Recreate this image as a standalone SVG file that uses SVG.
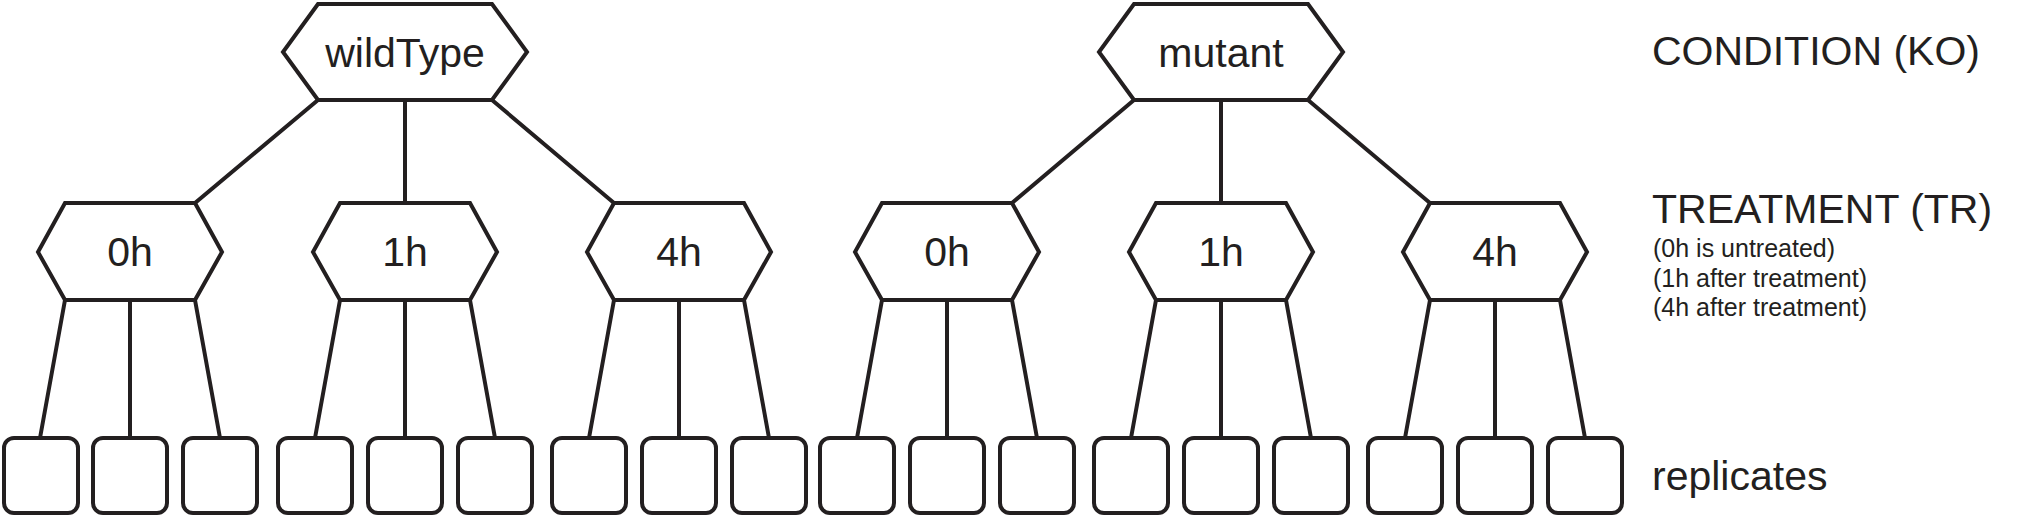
<svg xmlns="http://www.w3.org/2000/svg" width="2022" height="518" viewBox="0 0 2022 518">
<style>
.hex{fill:#fff;stroke:#231f20;stroke-width:4;stroke-linejoin:miter}
.rep{fill:#fff;stroke:#231f20;stroke-width:4}
.edge{stroke:#231f20;stroke-width:4;fill:none}
.lbl{font-family:"Liberation Sans",Arial,sans-serif;font-size:41px;fill:#231f20;text-anchor:middle}
.side{font-family:"Liberation Sans",Arial,sans-serif;font-size:41px;fill:#231f20}
.note{font-family:"Liberation Sans",Arial,sans-serif;font-size:25px;fill:#231f20}
</style>
<rect width="2022" height="518" fill="#fff"/>
<g id="connectors">
<path class="edge" d="M318,100L195,203M405,100V203M492,100L614,203"/>
<path class="edge" d="M1134,100L1012,203M1221,100V203M1308,100L1430,203"/>
<path class="edge" d="M65,300L40,438M130,300V438M195,300L220,438"/>
<path class="edge" d="M340,300L315,438M405,300V438M470,300L495,438"/>
<path class="edge" d="M614,300L589,438M679,300V438M744,300L769,438"/>
<path class="edge" d="M882,300L857,438M947,300V438M1012,300L1037,438"/>
<path class="edge" d="M1156,300L1131,438M1221,300V438M1286,300L1311,438"/>
<path class="edge" d="M1430,300L1405,438M1495,300V438M1560,300L1585,438"/>
</g>
<g id="wildType"><polygon class="hex" points="318,4 492,4 527,52 492,100 318,100 283,52"/><text class="lbl" x="405" y="67">wildType</text></g>
<g id="mutant"><polygon class="hex" points="1134,4 1308,4 1343,52 1308,100 1134,100 1099,52"/><text class="lbl" x="1221" y="67">mutant</text></g>
<g id="wt_0h"><polygon class="hex" points="65,203 195,203 222,252 195,300 65,300 38,252"/><text class="lbl" x="130" y="266">0h</text></g>
<g id="wt_1h"><polygon class="hex" points="340,203 470,203 497,252 470,300 340,300 313,252"/><text class="lbl" x="405" y="266">1h</text></g>
<g id="wt_4h"><polygon class="hex" points="614,203 744,203 771,252 744,300 614,300 587,252"/><text class="lbl" x="679" y="266">4h</text></g>
<g id="mu_0h"><polygon class="hex" points="882,203 1012,203 1039,252 1012,300 882,300 855,252"/><text class="lbl" x="947" y="266">0h</text></g>
<g id="mu_1h"><polygon class="hex" points="1156,203 1286,203 1313,252 1286,300 1156,300 1129,252"/><text class="lbl" x="1221" y="266">1h</text></g>
<g id="mu_4h"><polygon class="hex" points="1430,203 1560,203 1587,252 1560,300 1430,300 1403,252"/><text class="lbl" x="1495" y="266">4h</text></g>
<g id="replicates">
<rect class="rep" x="4" y="438" width="74" height="75" rx="10"/>
<rect class="rep" x="93" y="438" width="74" height="75" rx="10"/>
<rect class="rep" x="183" y="438" width="74" height="75" rx="10"/>
<rect class="rep" x="278" y="438" width="74" height="75" rx="10"/>
<rect class="rep" x="368" y="438" width="74" height="75" rx="10"/>
<rect class="rep" x="458" y="438" width="74" height="75" rx="10"/>
<rect class="rep" x="552" y="438" width="74" height="75" rx="10"/>
<rect class="rep" x="642" y="438" width="74" height="75" rx="10"/>
<rect class="rep" x="732" y="438" width="74" height="75" rx="10"/>
<rect class="rep" x="820" y="438" width="74" height="75" rx="10"/>
<rect class="rep" x="910" y="438" width="74" height="75" rx="10"/>
<rect class="rep" x="1000" y="438" width="74" height="75" rx="10"/>
<rect class="rep" x="1094" y="438" width="74" height="75" rx="10"/>
<rect class="rep" x="1184" y="438" width="74" height="75" rx="10"/>
<rect class="rep" x="1274" y="438" width="74" height="75" rx="10"/>
<rect class="rep" x="1368" y="438" width="74" height="75" rx="10"/>
<rect class="rep" x="1458" y="438" width="74" height="75" rx="10"/>
<rect class="rep" x="1548" y="438" width="74" height="75" rx="10"/>
</g>
<g id="legend">
<text class="side" x="1652" y="65">CONDITION (KO)</text>
<text class="side" x="1652" y="223">TREATMENT (TR)</text>
<text class="note" x="1653" y="257">(0h is untreated)</text>
<text class="note" x="1653" y="287">(1h after treatment)</text>
<text class="note" x="1653" y="316">(4h after treatment)</text>
<text class="side" x="1652" y="490">replicates</text>
</g>
</svg>
